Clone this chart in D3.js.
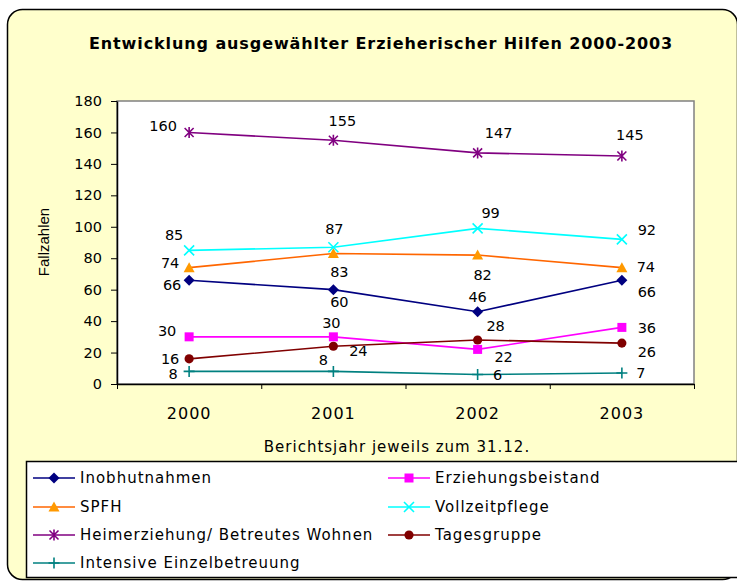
<!DOCTYPE html>
<html>
<head>
<meta charset="utf-8">
<script src="https://cdn.jsdelivr.net/npm/d3@7"></script>
<style>
  body { margin: 0; background: white; }
</style>
</head>
<body>
<div id="container"></div>
<script>
let w = 737;
let h = 582;

// data
let years = ["2000", "2001", "2002", "2003"];
let yTicks = [0, 20, 40, 60, 80, 100, 120, 140, 160, 180];

let inobhutnahmen = [66, 60, 46, 66];
let erziehungsbeistand = [30, 30, 22, 36];
let spfh = [74, 83, 82, 74];
let vollzeitpflege = [85, 87, 99, 92];
let heimerziehung = [160, 155, 147, 145];
let tagesgruppe = [16, 24, 28, 26];
let intensive = [8, 8, 6, 7];

// where each value label sits relative to its marker (dx, dy)
let labelShift = {
  inob: [[-17, 5], [6, 12], [0, -15], [25, 12]],
  erz: [[-22, -6], [-2, -14], [26, 7], [25, 0]],
  spfh: [[-19, -5], [6, 18], [5, 20], [24, -1]],
  voll: [[-15, -16], [1, -18], [13, -16], [25, -10]],
  heim: [[-26, -7], [9, -20], [21, -20], [8, -21]],
  tag: [[-19, 0], [25, 5], [18, -14], [25, 9]],
  int: [[-16, 2], [-10, -12], [20, 0], [19, 0]]
};

let series = [
  {key: "inob", name: "Inobhutnahmen", values: inobhutnahmen, line: "#000080", mark: "#000080", shape: "diamond"},
  {key: "erz", name: "Erziehungsbeistand", values: erziehungsbeistand, line: "#FF00FF", mark: "#FF00FF", shape: "square"},
  {key: "spfh", name: "SPFH", values: spfh, line: "#FF6600", mark: "#FF9900", shape: "triangle"},
  {key: "voll", name: "Vollzeitpflege", values: vollzeitpflege, line: "#00FFFF", mark: "#00FFFF", shape: "x"},
  {key: "heim", name: "Heimerziehung/ Betreutes Wohnen", values: heimerziehung, line: "#800080", mark: "#800080", shape: "star"},
  {key: "tag", name: "Tagesgruppe", values: tagesgruppe, line: "#800000", mark: "#800000", shape: "circle"},
  {key: "int", name: "Intensive Einzelbetreuung", values: intensive, line: "#008080", mark: "#008080", shape: "plus"}
];

function markerPath(shape) {
  if (shape == "diamond") {
    return "M0,-5.5L5.5,0L0,5.5L-5.5,0Z";
  } else if (shape == "square") {
    return "M-4.5,-4.5H4.5V4.5H-4.5Z";
  } else if (shape == "triangle") {
    return "M0,-5.5L5.5,4.5L-5.5,4.5Z";
  } else if (shape == "x") {
    return "M-5,-5L5,5M5,-5L-5,5";
  } else if (shape == "star") {
    return "M-4.5,-4.5L4.5,4.5M4.5,-4.5L-4.5,4.5M0,-5.5V5.5";
  } else if (shape == "plus") {
    return "M-5.5,0H5.5M0,-5.5V5.5";
  } else {
    return d3.symbol().type(d3.symbolCircle).size(66)();
  }
}

function isStroked(shape) {
  return shape == "x" || shape == "star" || shape == "plus";
}

function drawMarker(sel, s) {
  sel.append("path")
    .attr("d", markerPath(s.shape))
    .attr("fill", isStroked(s.shape) ? "none" : s.mark)
    .attr("stroke", isStroked(s.shape) ? s.mark : "none")
    .attr("stroke-width", 1.6);
}

let viz = d3.select("#container")
  .append("svg")
    .attr("width", w)
    .attr("height", h)
    .style("display", "block")
;

// chart frame
viz.append("rect")
  .attr("x", 7.5).attr("y", 9.5)
  .attr("width", 730).attr("height", 570)
  .attr("rx", 15)
  .attr("fill", "#FFFFCC")
  .attr("stroke", "black")
  .attr("stroke-width", 1.5);

viz.append("text")
  .attr("x", 381).attr("y", 49)
  .attr("text-anchor", "middle")
  .style("font-family", "DejaVu Sans")
  .style("font-weight", "bold")
  .style("font-size", "16px")
  .style("letter-spacing", "0.9px")
  .text("Entwicklung ausgewählter Erzieherischer Hilfen 2000-2003");

let plotL = 117, plotR = 694, plotT = 101, plotB = 384;

let xScale = d3.scaleBand().domain(years).range([plotL, plotR]);
let xEdges = d3.scaleLinear().domain([0, years.length]).range([plotL, plotR]);
let yScale = d3.scaleLinear().domain([0, 180]).range([plotB, plotT]);

function px(i) {
  return xScale(years[i]) + xScale.bandwidth() / 2;
}

// plot area
viz.append("rect")
  .attr("x", plotL).attr("y", plotT)
  .attr("width", plotR - plotL).attr("height", plotB - plotT)
  .attr("fill", "white")
  .attr("stroke", "#808080")
  .attr("stroke-width", 1.5);

let yAxis = viz.append("g")
  .attr("transform", "translate(" + plotL + ",0)")
  .call(d3.axisLeft(yScale).tickValues(yTicks).tickSize(6).tickSizeOuter(0).tickPadding(9));
yAxis.selectAll("text")
  .style("font-family", "DejaVu Sans")
  .style("font-size", "14.5px")
  .attr("fill", "black");
yAxis.select(".domain").attr("stroke", "black").attr("stroke-width", 1.5);
yAxis.selectAll(".tick line").attr("stroke", "black");

let xTickMarks = viz.append("g")
  .attr("transform", "translate(0," + plotB + ")")
  .call(d3.axisBottom(xEdges).ticks(years.length).tickFormat("").tickSize(5).tickSizeOuter(0));
xTickMarks.select(".domain").attr("stroke", "black").attr("stroke-width", 1.5);
xTickMarks.selectAll(".tick line").attr("stroke", "black");

let xLabels = viz.append("g")
  .attr("transform", "translate(0," + plotB + ")")
  .call(d3.axisBottom(xScale).tickSize(0).tickPadding(24));
xLabels.select(".domain").remove();
xLabels.selectAll("text")
  .style("font-family", "DejaVu Sans")
  .style("font-size", "16px")
  .style("letter-spacing", "1px")
  .attr("fill", "black");

viz.append("text")
  .attr("x", 397).attr("y", 452)
  .attr("text-anchor", "middle")
  .style("font-family", "DejaVu Sans")
  .style("font-size", "15px")
  .style("letter-spacing", "1px")
  .text("Berichtsjahr jeweils zum 31.12.");

viz.append("text")
  .attr("transform", "translate(49,242) rotate(-90)")
  .attr("text-anchor", "middle")
  .style("font-family", "Liberation Sans")
  .style("font-size", "15px")
  .text("Fallzahlen");

// lines, markers, value labels
let line = d3.line()
  .x(function(d, i) { return px(i); })
  .y(function(d) { return yScale(d); });

series.forEach(function(s) {
  viz.append("path")
    .datum(s.values)
    .attr("d", line)
    .attr("fill", "none")
    .attr("stroke", s.line)
    .attr("stroke-width", 1.6);
});

series.forEach(function(s) {
  let g = viz.selectAll(".m-" + s.key).data(s.values).enter()
    .append("g")
      .attr("class", "m-" + s.key)
      .attr("transform", function(d, i) { return "translate(" + px(i) + "," + yScale(d) + ")"; });
  g.each(function() { drawMarker(d3.select(this), s); });
});

series.forEach(function(s) {
  viz.selectAll(".lbl-" + s.key).data(s.values).enter()
    .append("text")
      .attr("class", "lbl-" + s.key)
      .attr("x", function(d, i) { return px(i) + labelShift[s.key][i][0]; })
      .attr("y", function(d, i) { return yScale(d) + labelShift[s.key][i][1]; })
      .attr("dy", "0.36em")
      .attr("text-anchor", "middle")
      .style("font-family", "DejaVu Sans")
      .style("font-size", "14.5px")
      .text(function(d) { return d; });
});

// legend
viz.append("rect")
  .attr("x", 26.5).attr("y", 461.5)
  .attr("width", 720).attr("height", 116)
  .attr("fill", "white")
  .attr("stroke", "black")
  .attr("stroke-width", 1.5);

let legendCols = [33, 388];
let legendRows = [478, 507, 535, 563];

let items = viz.selectAll(".legendItem").data(series).enter()
  .append("g")
    .classed("legendItem", true)
    .attr("transform", function(d, i) {
      return "translate(" + legendCols[i % 2] + "," + legendRows[Math.floor(i / 2)] + ")";
    });

items.append("line")
  .attr("x1", 0).attr("x2", 42)
  .attr("stroke", function(d) { return d.line; })
  .attr("stroke-width", 1.6);

items.each(function(d) {
  let m = d3.select(this).append("g").attr("transform", "translate(21,0)");
  drawMarker(m, d);
});

items.append("text")
  .attr("x", 47)
  .attr("dy", "0.36em")
  .style("font-family", "DejaVu Sans")
  .style("font-size", "15px")
  .style("letter-spacing", "1px")
  .text(function(d) { return d.name; });
</script>
</body>
</html>
